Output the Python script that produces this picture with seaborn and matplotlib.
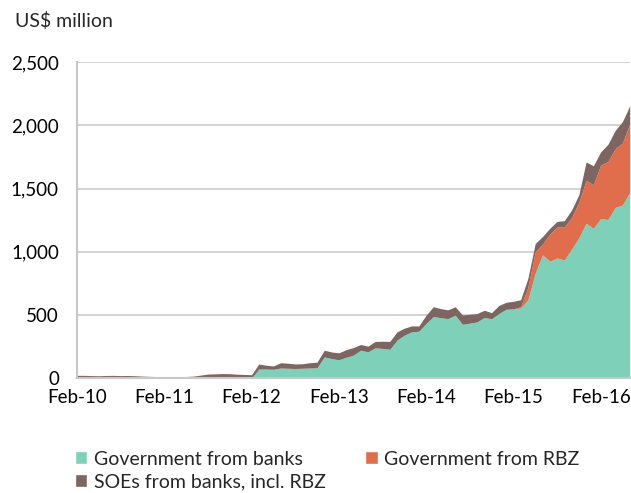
import numpy as np
import pandas as pd
import matplotlib
matplotlib.use("Agg")
import matplotlib.pyplot as plt
import seaborn as sns
from matplotlib.patches import Patch

# Monthly data, Feb-10 .. Jun-16 (US$ million)
months = pd.date_range("2010-02-01", "2016-06-01", freq="MS")

gov_banks = [0]*24 + [
    0, 72, 72, 70, 80, 78, 76, 78, 80, 82,
    168, 155, 145, 165, 182, 221, 208, 240, 235, 228,
    300, 340, 366, 371, 432, 488, 478, 471, 498, 426,
    435, 445, 480, 470, 511, 545, 548,
    555, 620, 830, 975, 925, 950, 935, 1020, 1110, 1225,
    1185, 1262, 1255, 1350, 1370, 1470]

gov_rbz = [0]*61 + [
    10, 100, 170, 85, 215, 245, 260, 250, 280, 340,
    345, 423, 460, 465, 490, 540]

total = [22, 22, 20, 19, 21, 22, 20, 21, 19, 16, 14, 12, 12, 11, 12, 13,
         16, 24, 32, 34, 36, 35, 31, 29,
         27, 112, 102, 96, 122, 118, 112, 114, 122, 126,
         221, 207, 200, 225, 242, 266, 253, 290, 292, 290,
         366, 395, 413, 413, 498, 565, 550, 540, 565, 500,
         505, 511, 537, 518, 575, 600, 608,
         620, 790, 1065, 1120, 1185, 1240, 1245, 1330, 1450, 1710,
         1680, 1790, 1850, 1960, 2030, 2155]

soes = [t - g - r for t, g, r in zip(total, gov_banks, gov_rbz)]

series_names = ["Government from banks", "Government from RBZ", "SOEs from banks, incl. RBZ"]
colors = ["#7ED1B8", "#E06E4C", "#7D6661"]
tick_labels = ["Feb-10", "Feb-11", "Feb-12", "Feb-13", "Feb-14", "Feb-15", "Feb-16"]

df = pd.DataFrame({"month": months, series_names[0]: gov_banks,
                   series_names[1]: gov_rbz, series_names[2]: soes})

sns.set_theme(style="white")
plt.rcParams["font.family"] = ["Lato", "DejaVu Sans"]

fig = plt.figure(figsize=(6.31, 4.93), dpi=100)
ax = fig.add_axes([0.122, 0.233, 0.876, 0.641])

x = np.arange(len(df))
ax.stackplot(x, df[series_names[0]], df[series_names[1]], df[series_names[2]],
             colors=colors, linewidth=0, zorder=3)

ax.set_xlim(0, len(df) - 1)
ax.set_ylim(0, 2500)
yt = [0, 500, 1000, 1500, 2000, 2500]
ax.set_yticks(yt)
ax.set_yticklabels([f"{v:,}" for v in yt])
ax.set_xticks(np.arange(0, len(df), 12))
ax.set_xticklabels(tick_labels)

ax.yaxis.grid(True, color="#D0D0D0", linewidth=1.3, zorder=0)
ax.xaxis.grid(False)
for s in ["top", "right"]:
    ax.spines[s].set_visible(False)
for s in ["left", "bottom"]:
    ax.spines[s].set_color("#C8C8C8")
    ax.spines[s].set_linewidth(1.5)
    ax.spines[s].set_zorder(4)
ax.tick_params(axis="both", which="major", length=5, width=1.3, color="#C8C8C8",
               labelsize=13.5, labelcolor="#000000", direction="out")
ax.tick_params(axis="y", pad=8)
ax.tick_params(axis="x", pad=3)

fig.text(15/631, 1 - 21/493, "US$ million", fontsize=14, va="center", ha="left")

handles = [Patch(facecolor=colors[0]), Patch(facecolor=colors[2]), Patch(facecolor=colors[1])]
labels = [series_names[0], series_names[2], series_names[1]]
fig.legend(handles, labels, ncol=2, loc="upper left", bbox_to_anchor=(67/631, 1 - 443/493),
           frameon=False, fontsize=14, handlelength=0.65, handleheight=0.65,
           handletextpad=0.35, columnspacing=2.0, labelspacing=0.3, borderaxespad=0)

fig.savefig("out.png", dpi=100)
